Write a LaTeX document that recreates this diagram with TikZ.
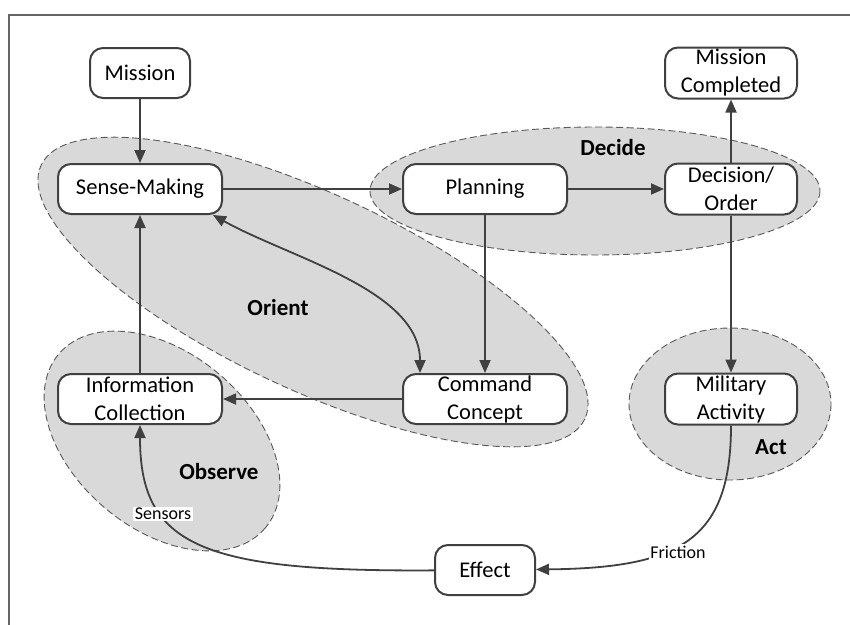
\documentclass[tikz,border=0pt]{standalone}
\usepackage{fontspec}
\setmainfont{Carlito}
\usetikzlibrary{arrows.meta}
\definecolor{edge}{HTML}{404040}
\definecolor{zonefill}{HTML}{D9D9D9}
\definecolor{zoneline}{HTML}{595959}
\definecolor{framecol}{HTML}{666666}

\begin{document}
\begin{tikzpicture}[x=1pt,y=-1pt,
  box/.style={draw=edge, line width=2pt, fill=white, rounded corners=13pt,
    inner sep=0pt, align=center, font=\fontsize{22.5}{28}\selectfont},
  wide/.style={box, minimum width=164pt, minimum height=50pt},
  mid/.style={box, minimum width=132pt, minimum height=51pt},
  small/.style={box, minimum width=100pt, minimum height=50pt},
  zone/.style={fill=zonefill, draw=zoneline, line width=0.9pt, dash pattern=on 7pt off 3.5pt},
  tip/.tip={Triangle[length=13pt,width=11pt]},
  flow/.style={draw=edge, line width=1.8pt, -tip},
  phase/.style={font=\fontsize{23}{26}\selectfont\bfseries, inner sep=0pt},
  tag/.style={font=\fontsize{18}{20}\selectfont, fill=white, inner sep=1.5pt}
]
\path[use as bounding box, clip] (0,0) rectangle (850,624);

% outer frame
\draw[framecol, line width=1.5pt] (9,15) rectangle (880,660);

% phase zones
\path[zone, rotate around={-25:(313,292)}] (313,292) ellipse [x radius=300, y radius=98];
\path[zone, rotate around={-40:(162,441)}] (162,441) ellipse [x radius=135, y radius=88];
\path[zone] (595,191) ellipse [x radius=225, y radius=64];
\path[zone] (730,404) ellipse [x radius=101, y radius=76];

% phase names
\node[phase] (decide) at (613,148) {Decide};
\node[phase] (orient) at (278,308) {Orient};
\node[phase] (observe) at (219,472) {Observe};
\node[phase] (actname) at (771,447) {Act};

% process steps
\node[small] (mission) at (140,73) {Mission};
\node[mid] (done) at (731,73) {Mission\\Completed};
\node[wide] (sense) at (140,189) {Sense-Making};
\node[wide] (plan) at (485,189) {Planning};
\node[mid] (order) at (731,189) {Decision/\\Order};
\node[wide] (info) at (140,399) {Information\\Collection};
\node[wide] (concept) at (485,399) {Command\\Concept};
\node[mid] (activity) at (731,399) {Military\\Activity};
\node[small] (effect) at (485,570) {Effect};

% connectors
\draw[flow] (mission) -- (sense);
\draw[flow] (sense) -- (plan);
\draw[flow] (plan) -- (order);
\draw[flow] (order) -- (done);
\draw[flow] (order) -- (activity);
\draw[flow] (plan) -- (concept);
\draw[flow] (concept) -- (info);
\draw[flow] (info) -- (sense);
\draw[flow, tip-tip] ([xshift=-10pt]sense.south east)
  .. controls (290,258) and (420,290) .. ([xshift=-65pt]concept.north);
\draw[flow] (activity) .. controls (731,540) and (680,568) .. (effect);
\draw[flow] (effect) .. controls (200,572) and (140,545) .. (info);

% connector labels
\node[tag] (friction) at (678,552) {Friction};
\node[tag] (sensors) at (163,514) {Sensors};
\end{tikzpicture}
\end{document}
